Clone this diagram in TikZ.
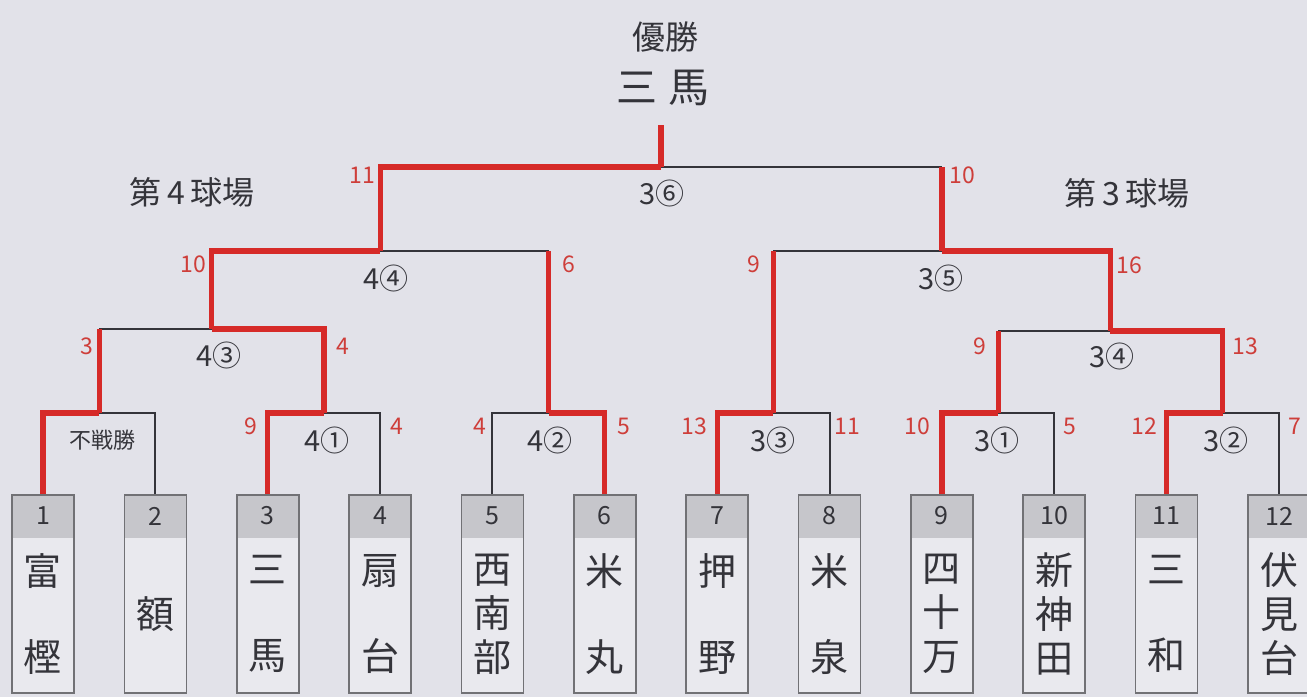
\documentclass[tikz,border=0pt]{standalone}
\usepackage{fontspec}
\setmainfont{Noto Sans CJK JP}
\definecolor{paper}{RGB}{226,226,233}
\definecolor{winred}{RGB}{214,42,40}
\definecolor{scorered}{RGB}{206,62,58}
\definecolor{headgrey}{RGB}{198,198,203}
\definecolor{boxfill}{RGB}{233,233,238}
\definecolor{ink}{RGB}{52,52,58}
\tikzset{
    win/.style={draw=winred,line width=2.6pt},
    lose/.style={draw=ink,line width=1pt},
    score/.style={text=scorered,font=\fontsize{11.5}{13}\selectfont,inner sep=0pt},
    game/.style={text=ink,font=\fontsize{14.5}{16}\selectfont,inner sep=0pt},
    team/.style={draw=ink!70,line width=0.8pt,fill=boxfill,minimum width=31pt,minimum height=99pt,anchor=north,inner sep=0pt,
        path picture={\fill[headgrey] (path picture bounding box.north west) rectangle ([yshift=-21.5pt]path picture bounding box.north east);}},
    teamno/.style={text=ink,font=\fontsize{12.5}{14}\selectfont,inner sep=0pt},
    teamname/.style={text=ink,font=\fontsize{19}{22}\selectfont,align=center,inner sep=0pt},
    bye/.style={text=ink,font=\fontsize{11}{13}\selectfont,inner sep=0pt},
    field/.style={text=ink,font=\fontsize{16}{18}\selectfont,inner sep=0pt}
}
\begin{document}
\begin{tikzpicture}[x=0.5pt,y=-0.5pt]
    \useasboundingbox[fill=paper] (0,0) rectangle (1307,697);
    \node[team] (t1) at (43,494) {} node[teamno] (n1) at (43,516) {1} node[teamname] (s1) at (43,614) {富\\[21pt]樫};
    \node[team] (t2) at (155.4,494) {} node[teamno] (n2) at (155.4,516) {2} node[teamname] (s2) at (155.4,614) {額};
    \node[team] (t3) at (267.7,494) {} node[teamno] (n3) at (267.7,516) {3} node[teamname] (s3) at (267.7,614) {三\\[21pt]馬};
    \node[team] (t4) at (380.1,494) {} node[teamno] (n4) at (380.1,516) {4} node[teamname] (s4) at (380.1,614) {扇\\[21pt]台};
    \node[team] (t5) at (492.4,494) {} node[teamno] (n5) at (492.4,516) {5} node[teamname] (s5) at (492.4,614) {西\\南\\部};
    \node[team] (t6) at (604.8,494) {} node[teamno] (n6) at (604.8,516) {6} node[teamname] (s6) at (604.8,614) {米\\[21pt]丸};
    \node[team] (t7) at (717.2,494) {} node[teamno] (n7) at (717.2,516) {7} node[teamname] (s7) at (717.2,614) {押\\[21pt]野};
    \node[team] (t8) at (829.5,494) {} node[teamno] (n8) at (829.5,516) {8} node[teamname] (s8) at (829.5,614) {米\\[21pt]泉};
    \node[team] (t9) at (941.9,494) {} node[teamno] (n9) at (941.9,516) {9} node[teamname] (s9) at (941.9,614) {四\\十\\万};
    \node[team] (t10) at (1054.2,494) {} node[teamno] (n10) at (1054.2,516) {10} node[teamname] (s10) at (1054.2,614) {新\\神\\田};
    \node[team] (t11) at (1166.6,494) {} node[teamno] (n11) at (1166.6,516) {11} node[teamname] (s11) at (1166.6,614) {三\\[21pt]和};
    \node[team] (t12) at (1279,494) {} node[teamno] (n12) at (1279,516) {12} node[teamname] (s12) at (1279,614) {伏\\見\\台};
    % bracket junctions
    \coordinate (m12) at (99.2,413);
    \coordinate (m34) at (323.9,413);
    \coordinate (m56) at (548.6,413);
    \coordinate (m78) at (773.3,413);
    \coordinate (m910) at (998.1,413);
    \coordinate (m1112) at (1222.8,413);
    \coordinate (L2) at (211.6,329);
    \coordinate (R2) at (1110.4,331);
    \coordinate (L3) at (380.1,251);
    \coordinate (R3) at (941.9,251);
    \coordinate (F) at (661,167);
    \coordinate (top) at (661,125);
    % first round
    \draw[lose] (t2.north) |- (m12);
    \draw[win] (t1.north) |- (m12);
    \draw[lose] (t4.north) |- (m34);
    \draw[win] (t3.north) |- (m34);
    \draw[lose] (t5.north) |- (m56);
    \draw[win] (t6.north) |- (m56);
    \draw[lose] (t8.north) |- (m78);
    \draw[win] (t7.north) |- (m78);
    \draw[lose] (t10.north) |- (m910);
    \draw[win] (t9.north) |- (m910);
    \draw[lose] (t12.north) |- (m1112);
    \draw[win] (t11.north) |- (m1112);
    % upper rounds
    \draw[lose] (m12 |- L2) -- (L2);
    \draw[win] (m12) -- (m12 |- L2);
    \draw[win] (m34) |- (L2);
    \draw[lose] (m910 |- R2) -- (R2);
    \draw[win] (m910) -- (m910 |- R2);
    \draw[win] (m1112) |- (R2);
    \draw[lose] (m56 |- L3) -- (L3);
    \draw[win] (m56) -- (m56 |- L3);
    \draw[win] (L2) |- (L3);
    \draw[lose] (m78 |- R3) -- (R3);
    \draw[win] (m78) -- (m78 |- R3);
    \draw[win] (R2) |- (R3);
    \draw[lose] (R3 |- F) -- (F);
    \draw[win] (R3) -- (R3 |- F);
    \draw[win] (L3) |- (F);
    \draw[win] (F) -- (top);
    % scores
    \node[score] (sc34l) at (251,426) {9};
    \node[score] (sc34r) at (397,426) {4};
    \node[score] (sc56l) at (480,426) {4};
    \node[score] (sc56r) at (624,426) {5};
    \node[score] (sc78l) at (694,426) {13};
    \node[score] (sc78r) at (847,426) {11};
    \node[score] (sc910l) at (917,426) {10};
    \node[score] (sc910r) at (1070,426) {5};
    \node[score] (sc1112l) at (1144,426) {12};
    \node[score] (sc1112r) at (1295,426) {7};
    \node[score] (scL2l) at (87,346) {3};
    \node[score] (scL2r) at (343,346) {4};
    \node[score] (scR2l) at (980,346) {9};
    \node[score] (scR2r) at (1245,346) {13};
    \node[score] (scL3l) at (193,264) {10};
    \node[score] (scL3r) at (569,264) {6};
    \node[score] (scR3l) at (754,264) {9};
    \node[score] (scR3r) at (1129,265) {16};
    \node[score] (scFl) at (362,175) {11};
    \node[score] (scFr) at (962,175) {10};
    % games
    \node[bye] (bye) at (102,440) {不戦勝};
    \node[game] (g41) at (327,440) {4①};
    \node[game] (g42) at (550,440) {4②};
    \node[game] (g43) at (219,355) {4③};
    \node[game] (g44) at (386,278) {4④};
    \node[game] (g31) at (997,440) {3①};
    \node[game] (g32) at (1226,440) {3②};
    \node[game] (g33) at (773,440) {3③};
    \node[game] (g34) at (1112,356) {3④};
    \node[game] (g35) at (941,278) {3⑤};
    \node[game] (g36) at (662,193) {3⑥};
    % titles
    \node[field] (f4) at (192,192) {第\,4\,球場};
    \node[field] (f3) at (1127,193) {第\,3\,球場};
    \node[text=ink,font=\fontsize{16.5}{18}\selectfont,inner sep=0pt] (cup) at (665,37) {優勝};
    \node[text=ink,font=\fontsize{20.5}{22}\selectfont,inner sep=0pt] (champ) at (663,88) {三\hspace{0.25em}馬};
\end{tikzpicture}
\end{document}
